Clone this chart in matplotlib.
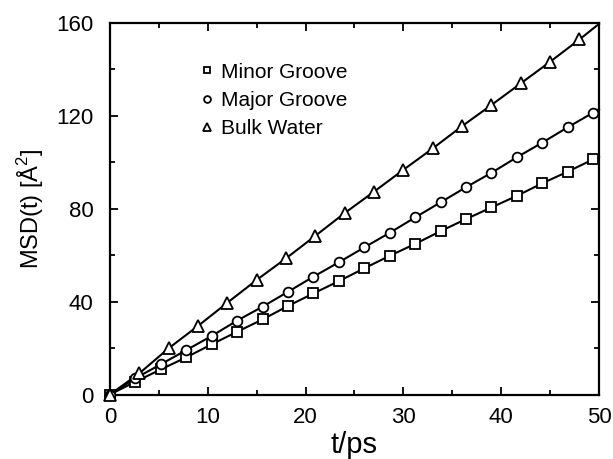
import numpy as np
import matplotlib
matplotlib.use("Agg")
import matplotlib.pyplot as plt
from matplotlib.ticker import MultipleLocator

plt.rcParams['font.family'] = ['Liberation Sans', 'DejaVu Sans']
plt.rcParams['mathtext.fontset'] = 'custom'
plt.rcParams['mathtext.rm'] = 'Liberation Sans'

# данные
t_groove = [0, 2.6, 5.2, 7.8, 10.4, 13, 15.6, 18.2, 20.8, 23.4, 26, 28.6,
            31.2, 33.8, 36.4, 39, 41.6, 44.2, 46.8, 49.4]
minor_groove = [0, 5.5, 10.8, 16.0, 21.6, 27.0, 32.3, 38.1, 43.5, 48.8, 54.3,
                59.7, 64.8, 70.3, 75.5, 80.5, 85.5, 90.9, 95.9, 101.2]
major_groove = [0, 7.0, 13.0, 19.1, 25.2, 31.8, 37.8, 44.2, 50.7, 56.9, 63.3,
                69.6, 76.2, 82.7, 89.2, 95.4, 102.1, 108.4, 115.0, 121.3]
t_bulk = [0, 3, 6, 9, 12, 15, 18, 21, 24, 27, 30, 33, 36, 39, 42, 45, 48]
bulk_water = [0, 9.1, 19.9, 29.5, 39.5, 49.3, 58.6, 68.3, 78.1, 87.3, 96.7,
              105.9, 115.5, 124.6, 133.9, 143.2, 152.8]
# концы линий на t = 50
t_end = 50
line_end = {"minor": 102.4, "major": 122.8, "bulk": 159.5}

fig = plt.figure(figsize=(6.13, 4.59), dpi=100)
ax = fig.add_axes([0.1794, 0.1405, 0.7978, 0.81])

series = [
    ("Minor Groove", t_groove, minor_groove, "s", 6.5, "minor"),
    ("Major Groove", t_groove, major_groove, "o", 7, "major"),
    ("Bulk Water", t_bulk, bulk_water, "^", 8, "bulk"),
]
for label, t, y, m, ms, key in series:
    ax.plot(list(t) + [t_end], list(y) + [line_end[key]], color="black",
            lw=1.5, clip_on=False, zorder=2)
    ax.plot(t, y, linestyle="none", marker=m, markersize=ms,
            markerfacecolor="white", markeredgecolor="black", markeredgewidth=1.3,
            label=label, clip_on=False, zorder=3)

ax.set_xlim(0, 50)
ax.set_ylim(0, 160)
ax.xaxis.set_major_locator(MultipleLocator(10))
ax.xaxis.set_minor_locator(MultipleLocator(5))
ax.yaxis.set_major_locator(MultipleLocator(40))
ax.yaxis.set_minor_locator(MultipleLocator(20))
ax.tick_params(which="both", direction="in", top=True, right=True, width=1.3)
ax.tick_params(which="major", length=6, labelsize=16)
ax.tick_params(which="minor", length=3.5)
ax.tick_params(axis="x", which="major", pad=9)
ax.tick_params(axis="y", which="major", pad=12)
for s in ax.spines.values():
    s.set_linewidth(1.6)

ax.set_xlabel("t/ps", fontsize=21, labelpad=2)
ax.set_ylabel("MSD(t) [Å$^2$]", fontsize=17, labelpad=7)

ax.legend(loc="upper left", bbox_to_anchor=(0.17, 0.915), frameon=False,
          fontsize=15, handlelength=0.5, handletextpad=0.45, labelspacing=0.45,
          markerscale=0.7, borderaxespad=0)

fig.savefig("out.png", dpi=100)
